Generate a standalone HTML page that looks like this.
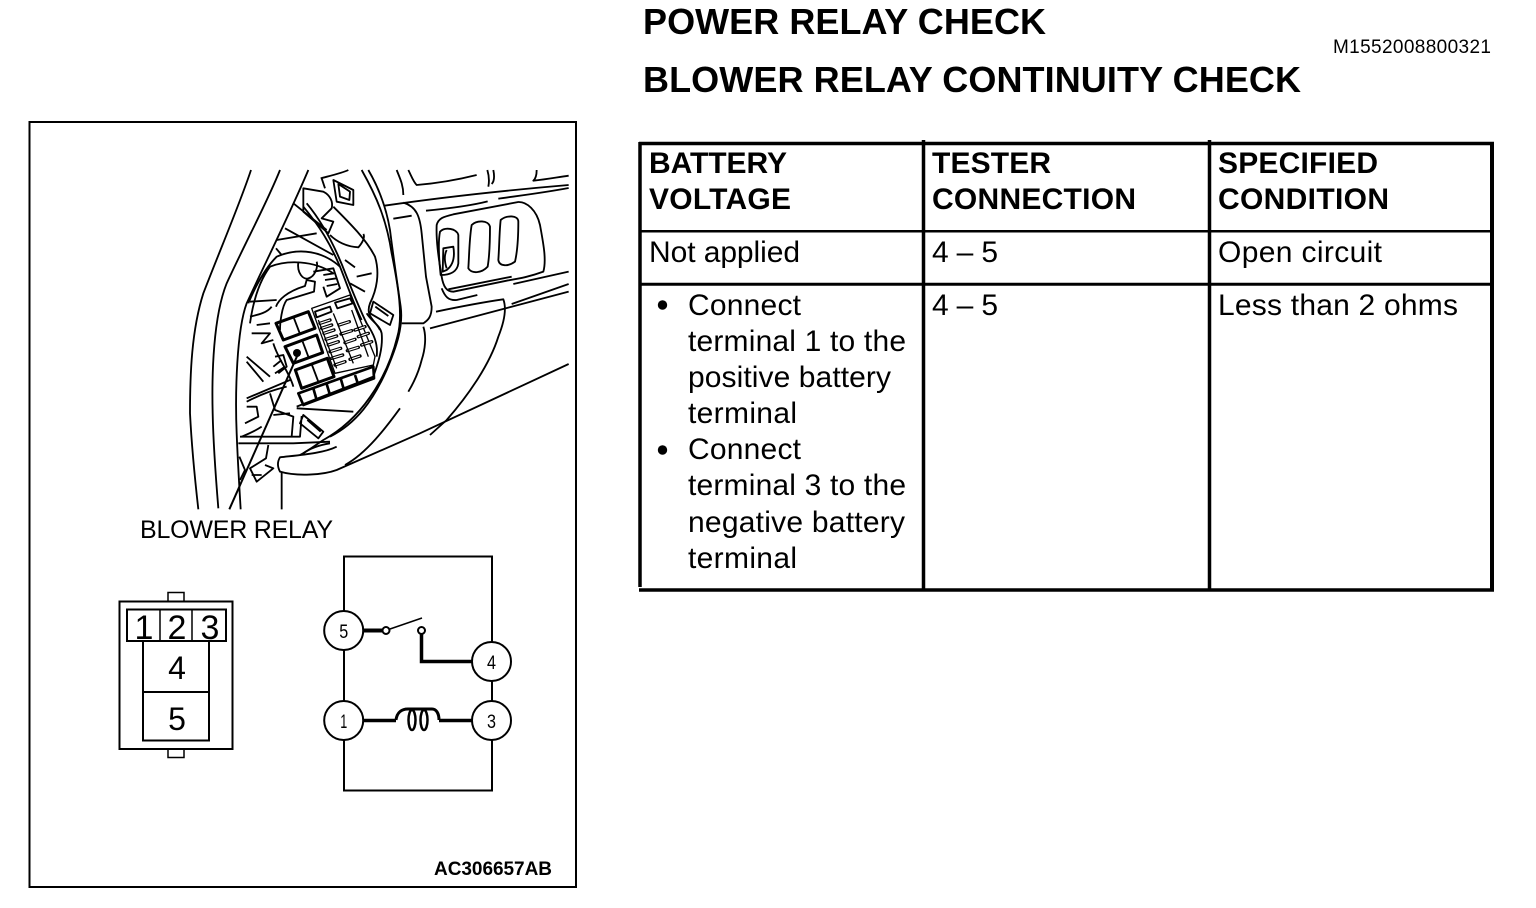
<!DOCTYPE html>
<html><head><meta charset="utf-8"><style>
html,body{margin:0;padding:0;background:#fff;width:1536px;height:908px;overflow:hidden}
svg{display:block}
text{font-family:"Liberation Sans",sans-serif;fill:#000}
.b{font-weight:bold}
.t{font-size:30px}
</style></head><body>
<svg width="1536" height="908" viewBox="0 0 1536 908" xmlns="http://www.w3.org/2000/svg">
<rect width="1536" height="908" fill="#fff"/>
<!-- Titles -->
<text class="b" x="643" y="34" font-size="36" textLength="403" lengthAdjust="spacing">POWER RELAY CHECK</text>
<text class="b" x="643" y="92" font-size="36" textLength="658" lengthAdjust="spacing">BLOWER RELAY CONTINUITY CHECK</text>
<text x="1333" y="53" font-size="19" textLength="158" lengthAdjust="spacing">M1552008800321</text>

<!-- Table -->
<g stroke="#000" fill="none">
<path d="M639 143.500H1494" stroke-width="3.500"/>
<path d="M640 142V587" stroke-width="3.500"/>
<path d="M1492 142V590" stroke-width="4"/>
<path d="M923.500 140V589M1209.500 140V589" stroke-width="3.500"/>
<path d="M639 231.200H1494" stroke-width="2.500"/>
<path d="M639 284.300H1494" stroke-width="3"/>
<path d="M639 590H1494" stroke-width="3.500"/>
</g>
<text class="t b" x="649" y="173" textLength="138" lengthAdjust="spacing">BATTERY</text>
<text class="t b" x="649" y="209" textLength="142" lengthAdjust="spacing">VOLTAGE</text>
<text class="t b" x="932" y="173" textLength="119" lengthAdjust="spacing">TESTER</text>
<text class="t b" x="932" y="209" textLength="204" lengthAdjust="spacing">CONNECTION</text>
<text class="t b" x="1218" y="173" textLength="160" lengthAdjust="spacing">SPECIFIED</text>
<text class="t b" x="1218" y="209" textLength="171" lengthAdjust="spacing">CONDITION</text>
<text class="t" x="649" y="262" textLength="151" lengthAdjust="spacing">Not applied</text>
<text class="t" x="932" y="262" textLength="66" lengthAdjust="spacing">4 – 5</text>
<text class="t" x="1218" y="262" textLength="164" lengthAdjust="spacing">Open circuit</text>
<circle cx="662.500" cy="305" r="4.700" fill="#000"/>
<circle cx="662.500" cy="450" r="4.700" fill="#000"/>
<text class="t" x="688" y="315" textLength="113" lengthAdjust="spacing">Connect</text>
<text class="t" x="688" y="351" textLength="218" lengthAdjust="spacing">terminal 1 to the</text>
<text class="t" x="688" y="387" textLength="203" lengthAdjust="spacing">positive battery</text>
<text class="t" x="688" y="423" textLength="109" lengthAdjust="spacing">terminal</text>
<text class="t" x="688" y="459" textLength="113" lengthAdjust="spacing">Connect</text>
<text class="t" x="688" y="495" textLength="218" lengthAdjust="spacing">terminal 3 to the</text>
<text class="t" x="688" y="532" textLength="217" lengthAdjust="spacing">negative battery</text>
<text class="t" x="688" y="568" textLength="109" lengthAdjust="spacing">terminal</text>
<text class="t" x="932" y="315" textLength="66" lengthAdjust="spacing">4 – 5</text>
<text class="t" x="1218" y="315" textLength="240" lengthAdjust="spacing">Less than 2 ohms</text>

<!-- Figure frame -->
<rect x="29.500" y="122" width="546.500" height="765" fill="none" stroke="#000" stroke-width="2"/>

<!-- Illustration (zoom coordinates) -->
<g transform="translate(190 160) scale(.33333)" fill="none" stroke="#000" stroke-width="5.500" stroke-linejoin="round">
<path d="M183 30C150 130 90 270 40 400C5 510 0 640 0 760C5 860 15 960 25 1048"/>
<path d="M270 30C230 130 170 240 110 370C70 470 65 640 68 760C70 860 78 960 85 1045"/>
<path d="M355 30C300 160 230 300 170 430C140 510 135 700 140 820C143 900 148 980 152 1048"/>
<path d="M515 30C560 110 590 180 605 280C625 380 640 470 622 530C590 660 510 780 400 840C370 860 350 875 330 885"/>
<path d="M535 30C570 90 590 150 600 210C610 290 622 370 632 440C640 500 620 560 590 630C550 720 500 790 420 830"/>
<!-- right dash panel -->
<path d="M620 30C630 55 640 75 640 105M655 30C665 50 670 65 680 75C740 70 800 60 860 45M892 30C898 50 898 65 895 80M910 30C914 50 912 65 905 72M1040 30C1040 45 1038 55 1030 62C1070 58 1100 52 1136 47"/>
<path d="M583 137C700 120 900 95 1136 75M640 128C680 140 690 170 695 220L708 350L725 440C725 470 715 480 700 490H635M610 176L665 167M708 152C780 145 850 135 893 124M925 116C980 108 1050 100 1136 84"/>
<path d="M740 195C745 175 760 170 790 163L985 126C1010 125 1040 150 1050 195C1060 250 1070 300 1060 335C1020 350 990 355 950 362L790 395C770 395 760 380 755 350C745 290 738 240 740 195Z"/>
<path d="M752 345C745 280 745 240 750 215C765 200 800 205 805 225V310C802 335 780 345 752 345Z"/>
<path d="M845 195C860 180 895 180 900 200C900 250 898 290 893 320C875 340 845 342 835 325C838 280 838 235 845 195Z"/>
<path d="M932 180C950 165 985 165 985 185C985 235 982 275 975 305C955 320 928 320 925 300C928 260 928 215 932 180Z"/>
<path d="M760 265L790 260C795 290 790 315 770 330L758 335ZM770 270C760 290 765 310 770 325"/>
<path d="M755 385C765 410 775 422 800 420L862 405M775 388L965 350M970 372L1136 335M965 432L1136 372M738 455C810 440 870 428 940 418C950 445 945 480 925 530C900 610 840 700 770 780L720 825"/>
<path d="M720 505L1136 395M700 500C710 530 705 570 695 600C685 640 670 670 655 695"/>
<path d="M1136 612L690 820L440 930C400 945 320 950 270 935C262 920 262 905 270 892C330 885 400 880 440 860"/>
<path d="M275 935V1048M630 745C590 800 530 880 465 915M340 880C360 865 390 855 420 850"/>
<!-- upper internals -->
<path d="M340 85L400 95C420 105 430 125 425 145L395 175L430 185L415 220L340 155Z"/>
<path d="M392 55C430 45 460 38 475 30M395 55L405 85M430 60L490 90L490 135L440 125Z M445 72L480 95 478 120 450 110Z"/>
<path d="M430 140C480 190 530 240 555 290C570 340 560 390 540 430C525 470 555 480 570 510M350 130C400 190 440 270 470 350C490 400 510 450 530 490C550 520 565 550 560 590"/>
<path d="M340 140C390 200 420 250 450 320C470 370 490 430 515 480"/>
<path d="M310 130L410 210M285 205L430 285M260 240L380 220M258 265L275 285M420 225C440 245 470 260 505 262C520 245 525 230 520 222"/>
<path d="M175 430C200 370 230 320 260 290C330 260 400 275 450 320M180 490C190 420 210 360 240 320C290 300 370 300 430 340"/>
<path d="M325 305C320 340 340 360 355 355C375 350 385 320 380 305M465 300L495 322M500 350L545 340M480 370L525 395"/>
<path d="M180 425L260 420M180 470C200 465 230 460 245 440M200 495L240 490M185 520L240 520L215 550L250 540"/>
<path d="M258 440C265 420 290 395 345 378L350 360L375 365L372 395L290 420C275 440 270 490 270 510"/>
<path d="M370 335L430 325L450 385L410 410L400 380M400 345L432 340M405 360L440 355M410 378L442 372"/>
<!-- connectors on right -->
<path d="M550 425L610 465L600 495L540 460ZM556 440L595 468"/>
<path d="M530 460C545 485 570 495 575 520C580 570 560 620 550 650L320 740"/>
<path d="M340 765L400 815L385 835L330 790ZM352 780L392 815M320 745L490 755M335 768L330 830H150"/>
<!-- fuse block -->
<path d="M365 445L480 405L555 590L550 615L435 640Z" stroke-width="4"/>
<path d="M375 455L420 440L425 455L380 472ZM435 428L480 415 488 430 442 445Z"/>
<path d="M390 490L420 480M395 505L425 495M402 520L432 510M408 538L440 528M415 555L445 545M420 575L452 565M425 595L458 585M435 615L465 605M447 495L478 485M453 522L485 512M465 548L495 538M472 572L505 562M480 598L510 588M495 510L525 500M505 530L535 520M515 555L545 545" stroke-width="10" stroke-linecap="round"/>
<path d="M390 490L420 480M395 505L425 495M402 520L432 510M408 538L440 528M415 555L445 545M420 575L452 565M425 595L458 585M435 615L465 605M447 495L478 485M453 522L485 512M465 548L495 538M472 572L505 562M480 598L510 588M495 510L525 500M505 530L535 520M515 555L545 545" stroke="#fff" stroke-width="3.500"/>
<path d="M385 480L440 625M430 460L490 610M485 450L535 590" stroke-width="4"/>
<!-- relays -->
<path d="M258 490L355 455L375 505L280 540Z" stroke-width="9"/>
<path d="M312 475L330 522"/>
<path d="M285 560L380 525L398 578L310 610Z" stroke-width="9"/>
<path d="M338 545L355 590"/>
<path d="M316 630L412 595L432 650L335 685Z" stroke-width="9"/>
<path d="M366 615L385 665"/>
<path d="M325 700L550 620L552 655L340 735Z" stroke-width="8"/>
<path d="M370 685L380 720M410 672L420 705M452 655L462 690M495 645L505 675" stroke-width="8"/>
<!-- lower-left clutter -->
<path d="M250 550C265 600 300 640 310 680M255 590L280 585L290 620L265 640M170 590L240 650M170 605L220 665M170 715L300 660M170 725C220 700 250 690 290 680M255 640L285 620M250 620L275 600"/>
<path d="M170 740H200L205 770L165 790M240 700L255 750L310 770L305 830M250 765L300 760M155 830C180 820 200 810 215 800"/>
<path d="M145 850L310 850L420 845M235 855L228 895L180 925L200 965L250 925L225 915M148 890L165 930L150 960M185 945L215 945"/>
<path d="M118 1048L325 580" stroke-width="6"/>
</g>
<circle cx="297" cy="353" r="4" fill="#000"/>
<text x="140" y="538" font-size="25" textLength="193" lengthAdjust="spacing">BLOWER RELAY</text>

<!-- Connector diagram -->
<g fill="none" stroke="#000">
<rect x="119.500" y="601.500" width="113" height="147.500" stroke-width="2"/>
<path d="M168 601V592.500H184V601M168 749V757.500H184V749" stroke-width="1.500"/>
<rect x="127" y="609.500" width="99" height="31.500" stroke-width="2"/>
<path d="M160 610V641M192 610V641" stroke-width="1.500"/>
<path d="M143 641V740.500H209V641M143 692H209" stroke-width="2"/>
</g>
<g font-size="34" text-anchor="middle">
<text x="144" y="639">1</text><text x="177" y="639">2</text><text x="210" y="639">3</text>
</g>
<g font-size="32" text-anchor="middle">
<text x="177" y="679">4</text><text x="177" y="730">5</text>
</g>

<!-- Relay schematic -->
<g fill="none" stroke="#000" stroke-width="2">
<rect x="344" y="556.500" width="148" height="234"/>
<circle cx="343.700" cy="630.500" r="19.500" fill="#fff"/>
<circle cx="491.500" cy="661.500" r="19.500" fill="#fff"/>
<circle cx="343.700" cy="720.500" r="19.500" fill="#fff"/>
<circle cx="491.500" cy="720.500" r="19.500" fill="#fff"/>
<path d="M363 630.500H382" stroke-width="4"/>
<path d="M390 629L422 618" stroke-width="1.500"/>
<circle cx="386" cy="630.500" r="3.500"/>
<circle cx="421.500" cy="630.500" r="3.500"/>
<path d="M421.500 634V661.500H472" stroke-width="3.500"/>
<path d="M363 720.500H396" stroke-width="3.500"/>
<path d="M439 720.500H472" stroke-width="3.500"/>
<path d="M396 720C397 712 402 709 408 709H432C436 709 439 713 439 720" stroke-width="3"/>
<ellipse cx="412" cy="720" rx="3.500" ry="10" stroke-width="2.500"/>
<ellipse cx="424" cy="720" rx="3.500" ry="10" stroke-width="2.500"/>
</g>
<g font-size="19" text-anchor="middle">
<text x="343.700" y="638" textLength="9" lengthAdjust="spacingAndGlyphs">5</text>
<text x="491.500" y="669" textLength="9" lengthAdjust="spacingAndGlyphs">4</text>
<text x="343.700" y="728" textLength="7" lengthAdjust="spacingAndGlyphs">1</text>
<text x="491.500" y="728" textLength="9" lengthAdjust="spacingAndGlyphs">3</text>
</g>
<text class="b" x="434" y="875" font-size="19" textLength="118" lengthAdjust="spacing">AC306657AB</text>
</svg>
</body></html>
